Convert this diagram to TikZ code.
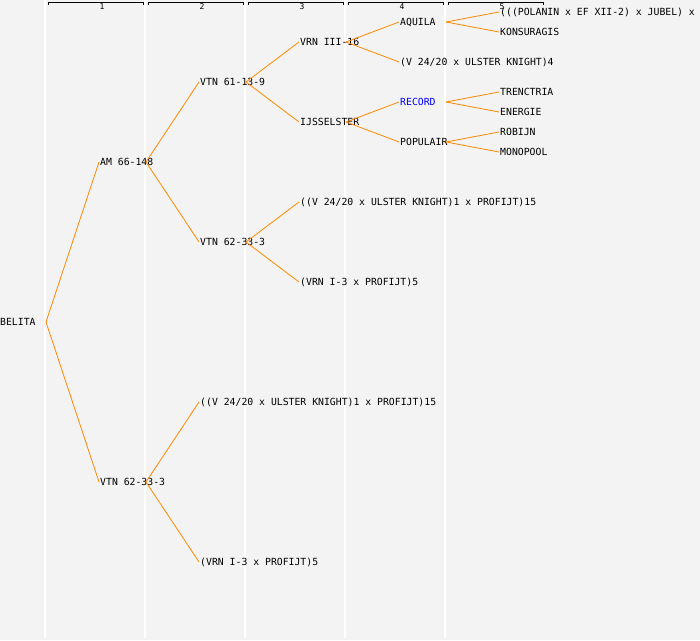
\documentclass[tikz,border=0pt]{standalone}
\usepackage{fontspec}
\setmonofont{DejaVu Sans Mono}
\definecolor{fondo}{RGB}{243,243,243}
\definecolor{ramacolor}{RGB}{255,136,0}
\definecolor{azul}{RGB}{0,0,255}
\begin{document}
\begin{tikzpicture}[x=1pt,y=-1pt,
    nombre/.style={anchor=west,inner sep=1pt,text height=7.2pt,text depth=0pt,
      font=\ttfamily\fontsize{9.8}{10}\selectfont},
    rama/.style={draw=ramacolor,line width=0.8pt},
    cabeza/.style={inner sep=0pt,font=\ttfamily\fontsize{8}{8}\selectfont}]
  \useasboundingbox (0,0) rectangle (700,640);
  \fill[fondo] (0,0) rectangle (700,640);

  % Columnas y cabeceras
  \foreach \k in {0,...,4} {
    \draw[white,line width=1.5pt] (100*\k+45,0) -- (100*\k+45,638);
  }
  \foreach \k in {1,...,5} {
    \draw[line width=1pt] (100*\k-52,5) -- (100*\k-52,2) -- (100*\k+43,2) -- (100*\k+43,5);
    \node[cabeza] (gen\k) at (100*\k+2,6.5) {\k};
  }

  % Generaciones 0 a 2
  \node[nombre] (belita) at (-1,322) {BELITA};
  \node[nombre] (am) at (99,162) {AM 66-148};
  \node[nombre] (vtnB) at (99,482) {VTN 62-33-3};
  \node[nombre] (vtnA) at (199,82) {VTN 61-13-9};
  \node[nombre] (vtnC) at (199,242) {VTN 62-33-3};
  \node[nombre] (kruisA) at (199,402) {((V 24/20 x ULSTER KNIGHT)1 x PROFIJT)15};
  \node[nombre] (kruisB) at (199,562) {(VRN I-3 x PROFIJT)5};

  % Generacion 3
  \node[nombre] (vrn) at (299,42) {VRN III-16};
  \node[nombre] (ijssel) at (299,122) {IJSSELSTER};
  \node[nombre] (kruisC) at (299,202) {((V 24/20 x ULSTER KNIGHT)1 x PROFIJT)15};
  \node[nombre] (kruisD) at (299,282) {(VRN I-3 x PROFIJT)5};

  % Generacion 4
  \node[nombre] (aquila) at (399,22) {AQUILA};
  \node[nombre] (kruisE) at (399,62) {(V 24/20 x ULSTER KNIGHT)4};
  \node[nombre,text=azul] (record) at (399,102) {RECORD};
  \node[nombre] (populair) at (399,142) {POPULAIR};

  % Generacion 5
  \node[nombre] (polanin) at (499,12) {(((POLANIN x EF XII-2) x JUBEL) x};
  \node[nombre] (konsuragis) at (499,32) {KONSURAGIS};
  \node[nombre] (trenctria) at (499,92) {TRENCTRIA};
  \node[nombre] (energie) at (499,112) {ENERGIE};
  \node[nombre] (robijn) at (499,132) {ROBIJN};
  \node[nombre] (monopool) at (499,152) {MONOPOOL};

  % Ramas
  \foreach \p/\h in {belita/am, belita/vtnB, am/vtnA, am/vtnC, vtnB/kruisA, vtnB/kruisB,
      vtnA/vrn, vtnA/ijssel, vtnC/kruisC, vtnC/kruisD, vrn/aquila, vrn/kruisE,
      ijssel/record, ijssel/populair, aquila/polanin, aquila/konsuragis,
      record/trenctria, record/energie, populair/robijn, populair/monopool} {
    \draw[rama] ([xshift=47pt]\p.west) -- (\h.west);
  }
\end{tikzpicture}
\end{document}
